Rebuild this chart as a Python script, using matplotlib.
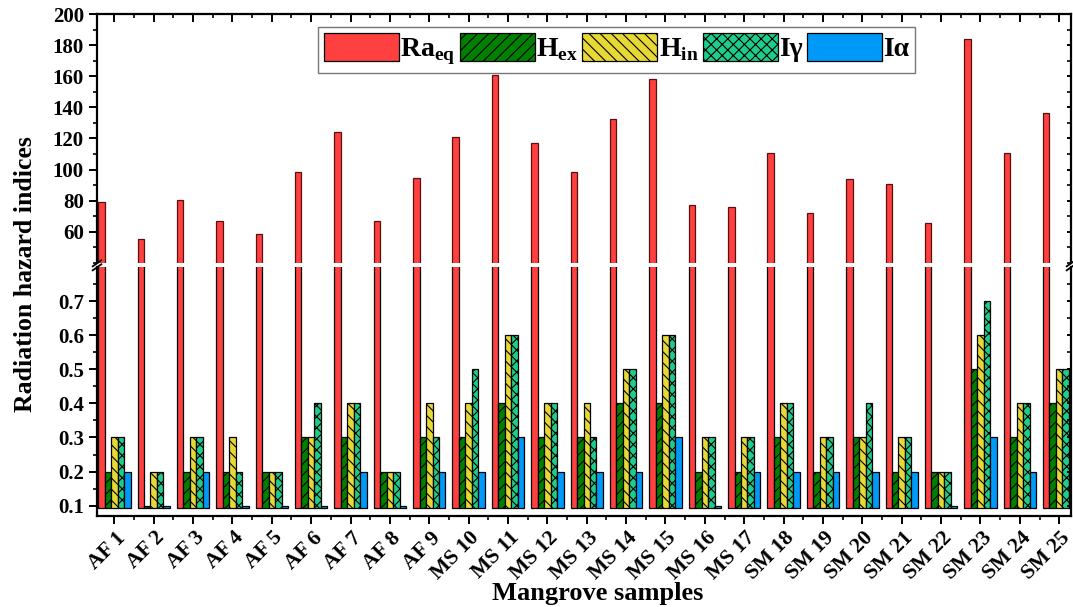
import matplotlib
matplotlib.use('Agg')
import matplotlib.pyplot as plt
import matplotlib.transforms as mtransforms
import numpy as np
from matplotlib.ticker import MultipleLocator, FixedLocator
from matplotlib.lines import Line2D

plt.rcParams['font.family'] = ['Liberation Serif', 'DejaVu Serif']
plt.rcParams['font.weight'] = 'bold'
plt.rcParams['mathtext.fontset'] = 'custom'
plt.rcParams['mathtext.rm'] = 'Liberation Serif'
plt.rcParams['mathtext.bf'] = 'Liberation Serif:bold'
plt.rcParams['hatch.linewidth'] = 0.8

# ---- data ----
samples = ['AF 1', 'AF 2', 'AF 3', 'AF 4', 'AF 5', 'AF 6', 'AF 7', 'AF 8', 'AF 9',
           'MS 10', 'MS 11', 'MS 12', 'MS 13', 'MS 14', 'MS 15', 'MS 16', 'MS 17',
           'SM 18', 'SM 19', 'SM 20', 'SM 21', 'SM 22', 'SM 23', 'SM 24', 'SM 25']
ra_eq = [78.8, 55.1, 80.4, 66.7, 58.5, 98.6, 124.0, 66.8, 94.6, 121.2, 160.7, 117.3,
         98.5, 132.6, 158.3, 77.4, 75.7, 110.5, 72.2, 93.8, 90.9, 65.6, 184.3, 110.7, 136.6]
h_ex = [0.2, 0.1, 0.2, 0.2, 0.2, 0.3, 0.3, 0.2, 0.3, 0.3, 0.4, 0.3, 0.3, 0.4, 0.4,
        0.2, 0.2, 0.3, 0.2, 0.3, 0.2, 0.2, 0.5, 0.3, 0.4]
h_in = [0.3, 0.2, 0.3, 0.3, 0.2, 0.3, 0.4, 0.2, 0.4, 0.4, 0.6, 0.4, 0.4, 0.5, 0.6,
        0.3, 0.3, 0.4, 0.3, 0.3, 0.3, 0.2, 0.6, 0.4, 0.5]
i_gamma = [0.3, 0.2, 0.3, 0.2, 0.2, 0.4, 0.4, 0.2, 0.3, 0.5, 0.6, 0.4, 0.3, 0.5, 0.6,
           0.3, 0.3, 0.4, 0.3, 0.4, 0.3, 0.2, 0.7, 0.4, 0.5]
i_alpha = [0.2, 0.1, 0.2, 0.1, 0.1, 0.1, 0.2, 0.1, 0.2, 0.2, 0.3, 0.2, 0.2, 0.2, 0.3,
           0.1, 0.2, 0.2, 0.2, 0.2, 0.2, 0.1, 0.3, 0.2, 0.2]

labels = ['Ra$_{\\mathbf{eq}}$', 'H$_{\\mathbf{ex}}$', 'H$_{\\mathbf{in}}$', 'Iγ', 'Iα']
colors = ['#FF4040', '#007F00', '#E6D835', '#1ECC8C', '#0099F7']
hatches = [None, '///', '\\\\\\', 'xxx', None]

x = np.arange(len(samples))
bw = 0.1645
base = 0.093

fig = plt.figure(figsize=(10.73, 6.07), dpi=100)
L, W = 97 / 1073, (1071 - 97) / 1073
ax_top = fig.add_axes([L, 1 - 263.3 / 607, W, (263.3 - 14.3) / 607])
ax_bot = fig.add_axes([L, 1 - 515.7 / 607, W, (515.7 - 267.3) / 607])

series = [ra_eq, h_ex, h_in, i_gamma, i_alpha]
handles = []
for k, (vals, c, h, lab) in enumerate(zip(series, colors, hatches, labels)):
    pos = x + (k - 2) * bw
    vals = np.asarray(vals)
    b = ax_bot.bar(pos, vals - base, bottom=base, width=bw, color=c, edgecolor='black',
                   linewidth=0.9, hatch=h, label=lab)
    if k == 0:
        ax_top.bar(pos, vals, width=bw, color=c, edgecolor='#5a1010', linewidth=0.9)
    handles.append(b)

for ax in (ax_top, ax_bot):
    ax.set_xlim(-0.44, 24.3)
    for s in ax.spines.values():
        s.set_linewidth(1.6)
    ax.xaxis.set_major_locator(FixedLocator(x))
    ax.xaxis.set_minor_locator(FixedLocator(x[:-1] + 0.5))

# upper part
ax_top.set_ylim(39.6, 200)
ax_top.spines['bottom'].set_visible(False)
ax_top.yaxis.set_major_locator(FixedLocator(np.arange(60, 201, 20)))
ax_top.yaxis.set_minor_locator(MultipleLocator(10))
ax_top.tick_params(axis='x', which='both', bottom=False, labelbottom=False, top=True,
                   direction='in')
ax_top.tick_params(axis='x', which='major', length=6, width=1.4)
ax_top.tick_params(axis='x', which='minor', length=3, width=1.2)

# lower part
ax_bot.set_ylim(0.0707, 0.799)
ax_bot.spines['top'].set_visible(False)
ax_bot.yaxis.set_major_locator(FixedLocator(np.arange(0.1, 0.75, 0.1)))
ax_bot.yaxis.set_minor_locator(FixedLocator(np.arange(0.1, 0.8, 0.05)))
ax_bot.yaxis.set_major_formatter(plt.FuncFormatter(lambda v, p: f'{v:.1f}'))
ax_bot.tick_params(axis='x', which='both', top=False, direction='out')
ax_bot.tick_params(axis='x', which='major', length=6, width=1.4)
ax_bot.tick_params(axis='x', which='minor', length=3, width=1.2)
ax_bot.set_xticklabels(samples, rotation=45, ha='right', va='center',
                       rotation_mode='anchor', fontsize=15.5, fontweight='bold')
shift = mtransforms.ScaledTranslation(8 / 100, -6 / 100, fig.dpi_scale_trans)
for lab in ax_bot.get_xticklabels():
    lab.set_transform(lab.get_transform() + shift)

for ax in (ax_top, ax_bot):
    ax.tick_params(axis='y', which='both', left=True, right=True)
    ax.tick_params(axis='y', which='major', direction='out', length=6, width=1.4,
                   labelsize=15)
    ax.tick_params(axis='y', which='minor', direction='out', length=3, width=1.2)
    for lab in ax.get_yticklabels():
        lab.set_fontweight('bold')
    # right side ticks point inward
    for t in ax.yaxis.get_major_ticks() + ax.yaxis.get_minor_ticks():
        t.tick2line.set_marker(matplotlib.lines.TICKLEFT)
        t.tick2line.set_markersize(3)

# break marks on the spines
for xf in (L, L + W):
    for yp in (263.3, 267.3):
        yf = 1 - yp / 607
        fig.add_artist(Line2D([xf - 0.004, xf + 0.004], [yf - 0.005, yf + 0.005],
                              color='black', lw=1.3))

fig.text(0.024, 0.549, 'Radiation hazard indices', rotation=90, ha='center', va='center',
         fontsize=18.5, fontweight='bold')
fig.text(0.557, 0.022, 'Mangrove samples', ha='center', va='center',
         fontsize=19, fontweight='bold')

leg = ax_top.legend(handles=handles, labels=labels, ncol=5, loc='upper left',
                    bbox_to_anchor=((318 - 97) / (1071 - 97), 1 - (27 - 14.3) / 249),
                    prop={'weight': 'bold', 'size': 20},
                    frameon=True, fancybox=False, edgecolor='#555555',
                    handlelength=2.7, handleheight=1.2, handletextpad=0.05,
                    columnspacing=0.15, borderpad=0.2, borderaxespad=0)
leg.get_frame().set_linewidth(1.0)

fig.savefig('out.png', dpi=100)
